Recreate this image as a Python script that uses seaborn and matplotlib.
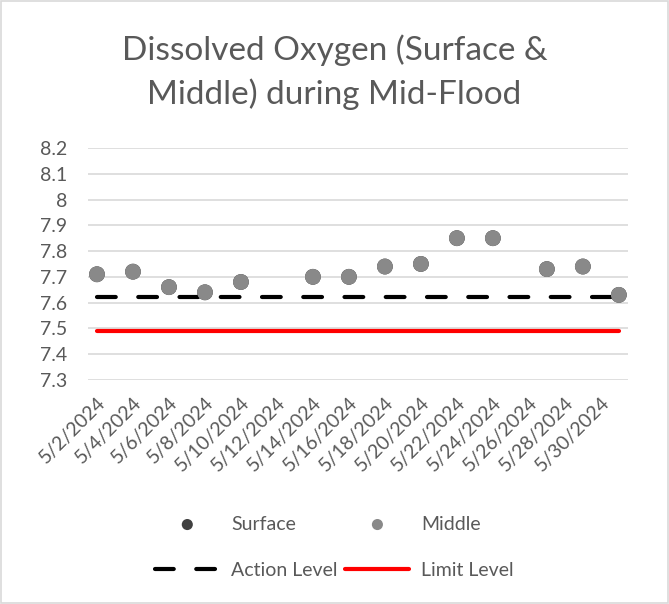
import matplotlib.pyplot as plt
import pandas as pd
import seaborn as sns
from matplotlib.patches import Rectangle

# Sampling dates and dissolved oxygen readings (mg/L)
sample_dates = [
    "2024-05-02", "2024-05-04", "2024-05-06", "2024-05-08", "2024-05-10",
    "2024-05-14", "2024-05-16", "2024-05-18", "2024-05-20", "2024-05-22",
    "2024-05-24", "2024-05-27", "2024-05-29", "2024-05-31",
]
surface_do = [7.71, 7.72, 7.66, 7.64, 7.68, 7.70, 7.70, 7.74, 7.75, 7.85,
              7.85, 7.73, 7.74, 7.63]
middle_do = [7.71, 7.72, 7.66, 7.64, 7.68, 7.70, 7.70, 7.74, 7.75, 7.85,
             7.85, 7.73, 7.74, 7.63]
action_level = 7.62
limit_level = 7.49

level_dates = ["2024-05-02", "2024-05-31"]
y_ticks = [7.3, 7.4, 7.5, 7.6, 7.7, 7.8, 7.9, 8.0, 8.1, 8.2]
y_tick_labels = ["7.3", "7.4", "7.5", "7.6", "7.7", "7.8", "7.9", "8", "8.1", "8.2"]

TEXT = "#595959"
FONT = ["Lato", "DejaVu Sans"]

df = pd.DataFrame({
    "date": pd.to_datetime(sample_dates),
    "surface": surface_do,
    "middle": middle_do,
})
levels = pd.DataFrame({
    "date": pd.to_datetime(level_dates),
    "action": [action_level] * len(level_dates),
    "limit": [limit_level] * len(level_dates),
})

sns.set_style("white")
plt.rcParams["font.family"] = FONT

fig = plt.figure(figsize=(6.69, 6.04), dpi=100)
ax = fig.add_axes([0.1315, 0.371, 0.807, 0.384])

sns.lineplot(data=levels, x="date", y="limit", ax=ax, color="#ff0000",
             linewidth=3, label="Limit Level", solid_capstyle="round", zorder=2)
sns.lineplot(data=levels, x="date", y="action", ax=ax, color="black",
             linewidth=3, label="Action Level", zorder=3)
action_line = ax.lines[-1]
action_line.set_dashes([4.5, 5.4])
action_line.set_dash_capstyle("round")
sns.scatterplot(data=df, x="date", y="surface", ax=ax, color="#404040",
                s=130, edgecolor="none", label="Surface", zorder=4)
sns.scatterplot(data=df, x="date", y="middle", ax=ax, color="#898989",
                s=130, edgecolor="none", label="Middle", zorder=5)

ax.set_ylim(7.3, 8.2)
ax.set_yticks(y_ticks)
ax.set_yticklabels(y_tick_labels)
ax.set_xlim(pd.Timestamp("2024-05-01 12:00"), pd.Timestamp("2024-05-31 12:00"))
tick_days = pd.date_range("2024-05-02", "2024-05-30", freq="2D")
ax.set_xticks(tick_days)
ax.set_xticklabels([f"{d.month}/{d.day}/{d.year}" for d in tick_days],
                   rotation=45, ha="right", rotation_mode="anchor")
ax.grid(axis="y", color="#d9d9d9", linewidth=1.2)
ax.grid(axis="x", visible=False)
for side in ax.spines.values():
    side.set_visible(False)
ax.tick_params(axis="y", labelsize=14, labelcolor=TEXT, length=0, pad=15)
ax.tick_params(axis="x", labelsize=14, labelcolor=TEXT, length=0, pad=10)
ax.set_xlabel("")
ax.set_ylabel("")

handles, labels = ax.get_legend_handles_labels()
order = [labels.index(n) for n in ["Surface", "Action Level", "Middle", "Limit Level"]]
ax.legend([handles[i] for i in order], [labels[i] for i in order],
          ncol=2, frameon=False, loc="center", bbox_to_anchor=(0.5, 0.094),
          bbox_transform=fig.transFigure, fontsize=14, labelcolor=TEXT,
          handlelength=3.3, handletextpad=0.6, columnspacing=0.4,
          labelspacing=1.5, markerscale=0.7)

fig.text(0.5, 0.880, "Dissolved Oxygen (Surface &\nMiddle) during Mid-Flood",
         ha="center", va="center", fontsize=24, color=TEXT, linespacing=1.5)

fig.patches.append(Rectangle((0.001, 0.001), 0.997, 0.997, transform=fig.transFigure,
                             fill=False, edgecolor="#d9d9d9", linewidth=1.2))

fig.savefig("out.png", dpi=100, facecolor="white")
